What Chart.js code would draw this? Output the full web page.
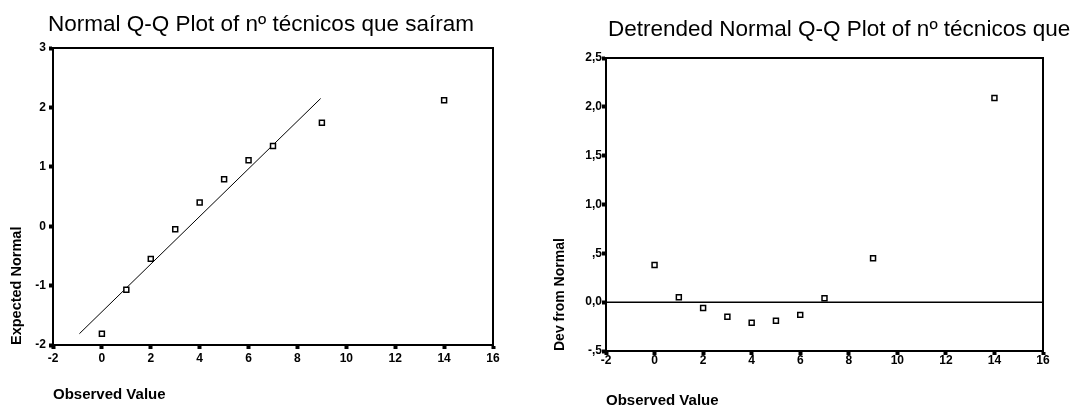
<!DOCTYPE html>
<html>
<head>
<meta charset="utf-8">
<script src="https://cdn.jsdelivr.net/npm/chart.js@4"></script>
<style>
  html, body { margin: 0; padding: 0; background: #fff; overflow: hidden; }
  #left { position: absolute; left: 0; top: 0; }
  #right { position: absolute; left: 537px; top: 0; }
</style>
</head>
<body>
<canvas id="left" width="537" height="405"></canvas>
<canvas id="right" width="700" height="405"></canvas>
<script>
// values
const observed = [0, 1, 2, 3, 4, 5, 6, 7, 9, 14];
const expectedNormal = [-1.81, -1.07, -0.55, -0.05, 0.40, 0.79, 1.11, 1.35, 1.74, 2.12];
const devFromNormal = [0.38, 0.05, -0.06, -0.15, -0.21, -0.19, -0.13, 0.04, 0.45, 2.09];

// reference line of the normal plot, and the zero line of the detrended one
const fitLineX = [-0.92, 8.95];
const fitLineY = [-1.81, 2.15];
const zeroLineX = [-2, 16];
const zeroLineY = [0, 0];

const xTicks = [-2, 0, 2, 4, 6, 8, 10, 12, 14, 16];
const yTicksLeft = [-2, -1, 0, 1, 2, 3];
const yTicksRight = [-0.5, 0, 0.5, 1, 1.5, 2, 2.5];
const yTickLabelsRight = ["-,5", "0,0", ",5", "1,0", "1,5", "2,0", "2,5"];

const titleLeft = "Normal Q-Q Plot of nº técnicos que saíram";
const titleRight = "Detrended Normal Q-Q Plot of nº técnicos que saíram";

const FONT = "'Liberation Sans', Arial, sans-serif";
const TITLE_SIZE = 22.5;
Chart.defaults.font.family = FONT;
Chart.defaults.color = "#000";
Chart.defaults.animation = false;

const toPoints = (xs, ys) => xs.map((x, i) => ({ x, y: ys[i] }));

const tickMarks = { display: true, drawOnChartArea: false, color: "#000", tickLength: 4, tickWidth: 4 };
const axisLine = { display: true, color: "#000", width: 2 };
const tickFont = { size: 12, weight: "bold" };

function xAxis(tickPad, titlePad, height) {
  return {
    type: "linear", position: "bottom", min: -2, max: 16,
    afterBuildTicks: (s) => { s.ticks = xTicks.map((v) => ({ value: v })); },
    afterFit: (s) => { s.height = height; },
    grid: tickMarks,
    border: axisLine,
    ticks: { font: tickFont, padding: tickPad, maxRotation: 0, autoSkip: false },
    title: {
      display: true, text: "Observed Value", align: "start",
      font: { size: 15, weight: "bold" }, padding: { top: 0, bottom: titlePad },
    },
  };
}

// top / right axes only draw the closing lines of the box
function edgeAxis(position, size) {
  return {
    type: "linear", position, display: true,
    grid: { display: false }, ticks: { display: false }, border: axisLine,
    afterFit: (s) => {
      if (position === "top") s.height = size;
      else s.width = size;
    },
  };
}

function pointSet(data) {
  return {
    data, pointStyle: "rect", pointRadius: 3.5, pointHoverRadius: 3.5,
    borderWidth: 1.5, borderColor: "#000", backgroundColor: "#fff", showLine: false,
  };
}

function lineSet(data, width) {
  return { data, showLine: true, pointRadius: 0, borderColor: "#000", borderWidth: width, fill: false };
}

// left panel
new Chart(document.getElementById("left"), {
  type: "scatter",
  data: {
    datasets: [
      pointSet(toPoints(observed, expectedNormal)),
      lineSet(toPoints(fitLineX, fitLineY), 1),
    ],
  },
  options: {
    responsive: false,
    layout: { padding: { left: 0, right: 15, top: 0, bottom: 0 } },
    plugins: {
      legend: { display: false },
      tooltip: { enabled: false },
      title: {
        display: true, text: titleLeft, align: "center",
        font: { size: TITLE_SIZE, weight: "normal" }, padding: { top: 11.5, bottom: 9.5 },
      },
    },
    scales: {
      x: xAxis(2, 1.5, 60),
      y: {
        type: "linear", position: "left", min: -2, max: 3,
        afterBuildTicks: (s) => { s.ticks = yTicksLeft.map((v) => ({ value: v })); },
        afterFit: (s) => { s.width = 53; },
        grid: tickMarks,
        border: axisLine,
        ticks: { font: tickFont, padding: 3 },
        title: {
          display: true, text: "Expected Normal", align: "start",
          font: { size: 14.5, weight: "bold" }, padding: { top: 8.3, bottom: 0 },
        },
      },
      x2: edgeAxis("top", 0),
      y2: edgeAxis("right", 29),
    },
  },
});

// right panel: the title runs past the page edge, so the box around it is sized from its width
const mctx = document.createElement("canvas").getContext("2d");
mctx.font = TITLE_SIZE + "px " + FONT;
const rightTitleW = mctx.measureText(titleRight).width;
const rightTitleStart = 71;
const rightBoxW = 2 * rightTitleStart + rightTitleW;
const rightPlotRight = 506;

new Chart(document.getElementById("right"), {
  type: "scatter",
  data: {
    datasets: [
      pointSet(toPoints(observed, devFromNormal)),
      lineSet(toPoints(zeroLineX, zeroLineY), 1.5),
    ],
  },
  options: {
    responsive: false,
    layout: { padding: { left: 0, right: 700 - rightBoxW, top: 0, bottom: 0 } },
    plugins: {
      legend: { display: false },
      tooltip: { enabled: false },
      title: {
        display: true, text: titleRight, align: "center",
        font: { size: TITLE_SIZE, weight: "normal" }, padding: { top: 16, bottom: 15 },
      },
    },
    scales: {
      x: xAxis(-2, -5, 54),
      y: {
        type: "linear", position: "left", min: -0.5, max: 2.5,
        afterBuildTicks: (s) => { s.ticks = yTicksRight.map((v) => ({ value: v })); },
        afterFit: (s) => { s.width = 69; },
        grid: tickMarks,
        border: axisLine,
        ticks: {
          font: tickFont, padding: 0,
          callback: (v) => yTickLabelsRight[yTicksRight.indexOf(v)],
        },
        title: {
          display: true, text: "Dev from Normal", align: "start",
          font: { size: 14, weight: "bold" }, padding: { top: 14.6, bottom: 0 },
        },
      },
      x2: edgeAxis("top", 0),
      y2: edgeAxis("right", rightBoxW - rightPlotRight),
    },
  },
});
</script>
</body>
</html>
